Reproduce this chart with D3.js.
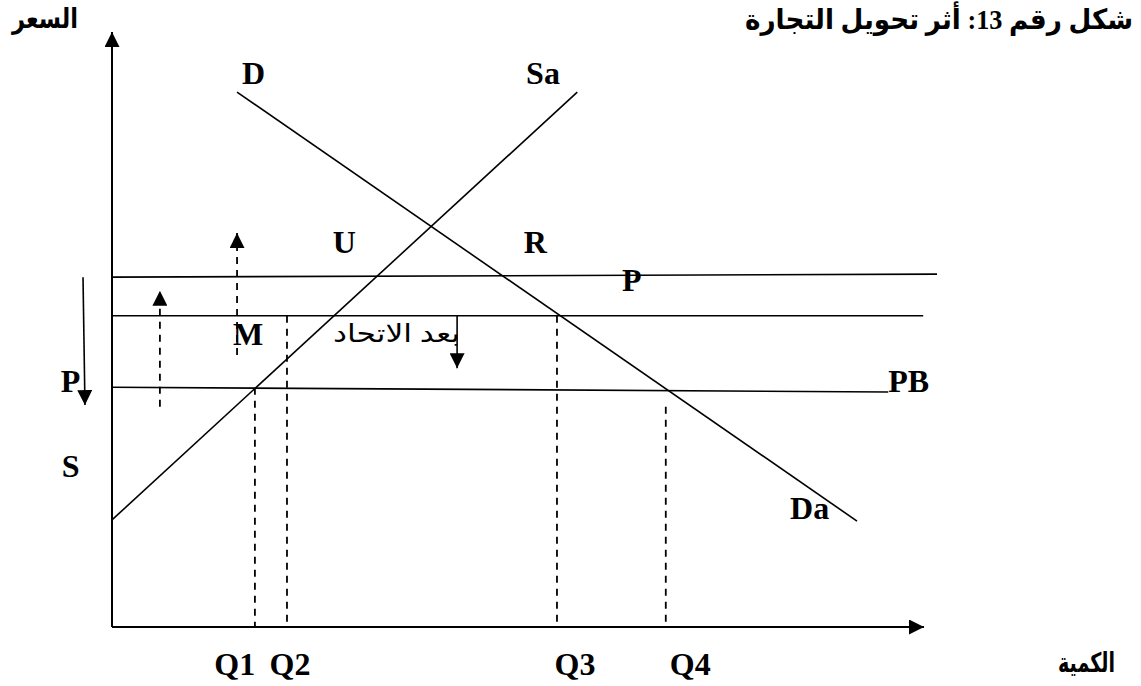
<!DOCTYPE html>
<html>
<head>
<meta charset="utf-8">
<script src="https://cdn.jsdelivr.net/npm/d3@7"></script>
<style>
  body { margin: 0; background: #fff; }
</style>
</head>
<body>
<svg id="chart"></svg>
<script>
// quantity and price in chart units (0..100 = length of each axis)
var supplyA = [[0, 18.0], [57.3, 89.9]];
var demand = [[15.4, 89.9], [91.75, 17.8]];
var priceBefore = [[0, 58.8], [101.6, 59.3]];
var priceUnion = [[0, 52.3], [99.9, 52.3]];
var priceB = [[0, 40.3], [95.6, 39.5]];

var qNames = ["Q1", "Q2", "Q3", "Q4"];
var qValues = [17.6, 21.55, 54.8, 68.2];
var qTops = [40.2, 52.3, 52.3, 37.0];
var qLabelAt = [12.6, 19.4, 54.5, 68.7];

var labels = [
  ["D", 16.0, 91.3], ["Sa", 51.0, 91.3], ["U", 27.2, 62.9], ["R", 50.7, 62.9],
  ["P", 62.8, 56.5], ["M", 14.9, 47.4], ["P", -6.3, 39.5], ["PB", 95.6, 39.5],
  ["S", -6.2, 25.2], ["Da", 83.5, 18.2]
];

// [q, from price, to price]
var dashedUp = [[5.9, 37.0, 56.5], [15.4, 45.7, 66.2]];
var solidArrows = [[[-3.57, 58.8], [-3.33, 37.3]], [[42.5, 52.3], [42.5, 43.5]]];

var title = "شكل رقم 13: أثر تحويل التجارة";
var yTitle = "السعر";
var xTitle = "الكمية";
var unionNote = "بعد الاتحاد";

var width = 1141;
var height = 686;

var svg = d3.select("#chart")
    .attr("width", width)
    .attr("height", height);

var x = d3.scaleLinear().domain([0, 100]).range([112, 924]);
var y = d3.scaleLinear().domain([0, 100]).range([627, 32]);

var defs = svg.append("defs");
defs.append("marker")
    .attr("id", "head")
    .attr("viewBox", "0 0 10 10")
    .attr("refX", 10)
    .attr("refY", 5)
    .attr("markerWidth", 15)
    .attr("markerHeight", 15)
    .attr("markerUnits", "userSpaceOnUse")
    .attr("orient", "auto")
  .append("path")
    .attr("d", "M0,0 L10,5 L0,10 Z")
    .attr("fill", "black");

var line = d3.line().x(d => x(d[0])).y(d => y(d[1]));

// axes
svg.append("path")
    .attr("d", line([[0, 0], [0, 100]]))
    .attr("stroke", "black").attr("stroke-width", 2)
    .attr("marker-end", "url(#head)");
svg.append("path")
    .attr("d", line([[0, 0], [100, 0]]))
    .attr("stroke", "black").attr("stroke-width", 2)
    .attr("marker-end", "url(#head)");

// curves and price lines
svg.append("g")
  .selectAll("path")
  .data([supplyA, demand, priceBefore, priceUnion, priceB])
  .enter()
  .append("path")
    .attr("d", line)
    .attr("fill", "none")
    .attr("stroke", "black")
    .attr("stroke-width", 1.6);

// dashed quantity lines
svg.append("g")
  .selectAll("line")
  .data(qValues)
  .enter()
  .append("line")
    .attr("x1", d => x(d))
    .attr("x2", d => x(d))
    .attr("y1", (d, i) => y(qTops[i]))
    .attr("y2", y(0))
    .attr("stroke", "black")
    .attr("stroke-width", 1.8)
    .attr("stroke-dasharray", "7,6");

// dashed up arrows
svg.append("g")
  .selectAll("path")
  .data(dashedUp)
  .enter()
  .append("path")
    .attr("d", d => line([[d[0], d[1]], [d[0], d[2]]]))
    .attr("stroke", "black")
    .attr("stroke-width", 1.8)
    .attr("stroke-dasharray", "7,6")
    .attr("marker-end", "url(#head)");

// solid arrows
svg.append("g")
  .selectAll("path")
  .data(solidArrows)
  .enter()
  .append("path")
    .attr("d", line)
    .attr("stroke", "black")
    .attr("stroke-width", 1.6)
    .attr("marker-end", "url(#head)");

// letter labels
var serif = "'Liberation Serif', 'Times New Roman', serif";
svg.append("g")
  .selectAll("text")
  .data(labels)
  .enter()
  .append("text")
    .attr("x", d => x(d[1]))
    .attr("y", d => y(d[2]))
    .attr("font-family", serif)
    .attr("font-weight", "bold")
    .attr("font-size", 32)
    .text(d => d[0]);

svg.append("g")
  .selectAll("text")
  .data(qNames)
  .enter()
  .append("text")
    .attr("x", (d, i) => x(qLabelAt[i]))
    .attr("y", 675)
    .attr("font-family", serif)
    .attr("font-weight", "bold")
    .attr("font-size", 32)
    .text(d => d);

// arabic texts
var arabic = "'Liberation Serif', 'DejaVu Sans', sans-serif";
svg.append("text")
    .attr("x", 745).attr("y", 29)
    .attr("font-family", arabic).attr("font-weight", "bold").attr("font-size", 28)
    .attr("textLength", 388).attr("lengthAdjust", "spacingAndGlyphs")
    .text(title);
svg.append("text")
    .attr("x", 12).attr("y", 28)
    .attr("font-family", arabic).attr("font-weight", "bold").attr("font-size", 28)
    .attr("textLength", 66).attr("lengthAdjust", "spacingAndGlyphs")
    .text(yTitle);
svg.append("text")
    .attr("x", 1058).attr("y", 672)
    .attr("font-family", arabic).attr("font-weight", "bold").attr("font-size", 27)
    .attr("textLength", 57).attr("lengthAdjust", "spacingAndGlyphs")
    .text(xTitle);
svg.append("text")
    .attr("x", 333).attr("y", 342)
    .attr("font-family", arabic).attr("font-size", 25)
    .attr("textLength", 127).attr("lengthAdjust", "spacingAndGlyphs")
    .text(unionNote);
</script>
</body>
</html>
